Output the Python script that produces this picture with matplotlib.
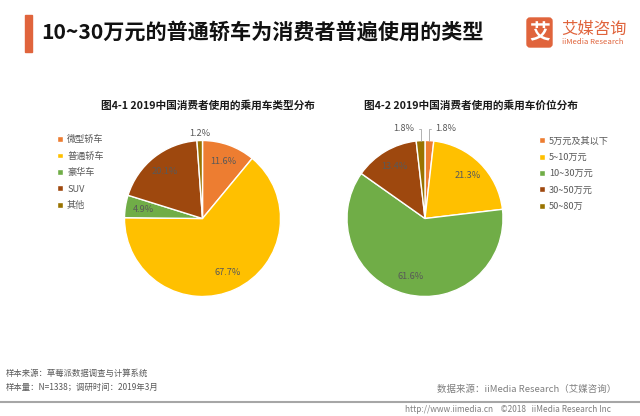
#!/usr/bin/env python
# -*- coding: utf-8 -*-

import numpy as np
from matplotlib import pyplot as plt
from matplotlib.patches import Rectangle, FancyBboxPatch

plt.rcParams['font.family'] = ['Noto Sans CJK SC', 'DejaVu Sans']

# 图4-1 乘用车类型分布
type_labels = ['微型轿车', '普通轿车', '豪华车', 'SUV', '其他']
type_values = [11.6, 67.7, 4.9, 20.1, 1.2]

# 图4-2 乘用车价位分布
price_labels = ['5万元及其以下', '5~10万元', '10~30万元', '30~50万元', '50~80万']
price_values = [1.8, 21.3, 61.6, 13.4, 1.8]

colors = ['#ED7D31', '#FFC000', '#70AD47', '#9E480E', '#997300']
ORANGE = '#E0643C'
GRAY = '#595959'

W, H = 640, 416


def Y(y):
    # 画像座標(上から) -> データ座標(下から)
    return H - y


def draw_pie(fig, ax, values, labels, cx, cy, r, title, title_x, legend_xy, leader):
    wedges, _ = ax.pie(values, colors=colors, startangle=90, counterclock=False,
                       center=(cx, Y(cy)), radius=r,
                       wedgeprops=dict(edgecolor='white', linewidth=1.0))

    for w, v in zip(wedges, values):
        mid = np.deg2rad((w.theta1 + w.theta2) / 2)
        txt = '{:.1f}%'.format(v)
        if v >= 3:
            x = cx + 0.77 * r * np.cos(mid)
            y = Y(cy) + 0.77 * r * np.sin(mid)
            ax.text(x, y, txt, ha='center', va='center', fontsize=6.6, color=GRAY)
        elif not leader:
            x = cx + 1.09 * r * np.cos(mid)
            y = Y(cy) + 1.09 * r * np.sin(mid)
            ax.text(x, y, txt, ha='center', va='center', fontsize=6.6, color=GRAY)
        else:
            px = cx + r * np.cos(mid)
            py = Y(cy) + r * np.sin(mid)
            side = 1 if np.cos(mid) > 0 else -1
            ax.annotate(txt, xy=(px, py), xytext=(px + side * 6, py + 12),
                        ha='left' if side > 0 else 'right', va='center',
                        fontsize=6.6, color=GRAY,
                        arrowprops=dict(arrowstyle='-', color='#a6a6a6', lw=0.6,
                                        shrinkA=1, shrinkB=0,
                                        connectionstyle='angle,angleA=0,angleB=90,rad=0'))

    ax.text(title_x, Y(105), title, ha='center', va='center', fontsize=7.7,
            fontweight='bold', color='#1a1a1a')

    fig.legend(wedges, labels, loc='upper left',
               bbox_to_anchor=(legend_xy[0] / W, 1 - legend_xy[1] / H),
               bbox_transform=fig.transFigure, frameon=False, fontsize=6.6,
               handlelength=0.6, handleheight=0.6, handletextpad=0.5,
               labelspacing=0.8, borderpad=0, borderaxespad=0,
               labelcolor=GRAY)


fig = plt.figure(figsize=(6.4, 4.16), dpi=100)
ax = fig.add_axes([0, 0, 1, 1])

draw_pie(fig, ax, type_values, type_labels, 202.5, 218.5, 78,
         '图4-1 2019中国消费者使用的乘用车类型分布', 208, (57, 135), leader=False)
draw_pie(fig, ax, price_values, price_labels, 425, 218.5, 78,
         '图4-2 2019中国消费者使用的乘用车价位分布', 471, (539, 136.5), leader=True)

ax.set_xlim(0, W)
ax.set_ylim(0, H)
ax.set_aspect('equal')
ax.axis('off')

# タイトル
ax.add_patch(Rectangle((25, Y(52)), 7, 37, color=ORANGE))
ax.text(41, Y(32), '10~30万元的普通轿车为消费者普遍使用的类型', fontsize=15.2,
        fontweight='bold', ha='left', va='center', color='#111111')

# ロゴ
ax.add_patch(FancyBboxPatch((527, Y(47)), 25, 29,
                            boxstyle='round,pad=0,rounding_size=3', color=ORANGE))
ax.text(539.5, Y(32.5), '艾', fontsize=15, fontweight='bold', color='white',
        ha='center', va='center')
ax.text(561, Y(29), '艾媒咨询', fontsize=11.8, color=ORANGE, ha='left', va='center')
ax.text(562, Y(42), 'iiMedia Research', fontsize=5.6, color=ORANGE,
        ha='left', va='center')

# 脚注
ax.text(6, Y(373), '样本来源：草莓派数据调查与计算系统', fontsize=6, color=GRAY,
        ha='left', va='center')
ax.text(6, Y(387), '样本量：N=1338；调研时间：2019年3月', fontsize=6, color=GRAY,
        ha='left', va='center')
ax.text(437, Y(389), '数据来源：iiMedia Research（艾媒咨询）', fontsize=6.8,
        color='#7f7f7f', ha='left', va='center')
ax.plot([0, W], [Y(402), Y(402)], color='#a6a6a6', lw=1.5)
ax.text(405, Y(409), 'http://www.iimedia.cn    ©2018   iiMedia Research Inc',
        fontsize=6, color='#7f7f7f', ha='left', va='center')

fig.savefig('out.png', dpi=100)
